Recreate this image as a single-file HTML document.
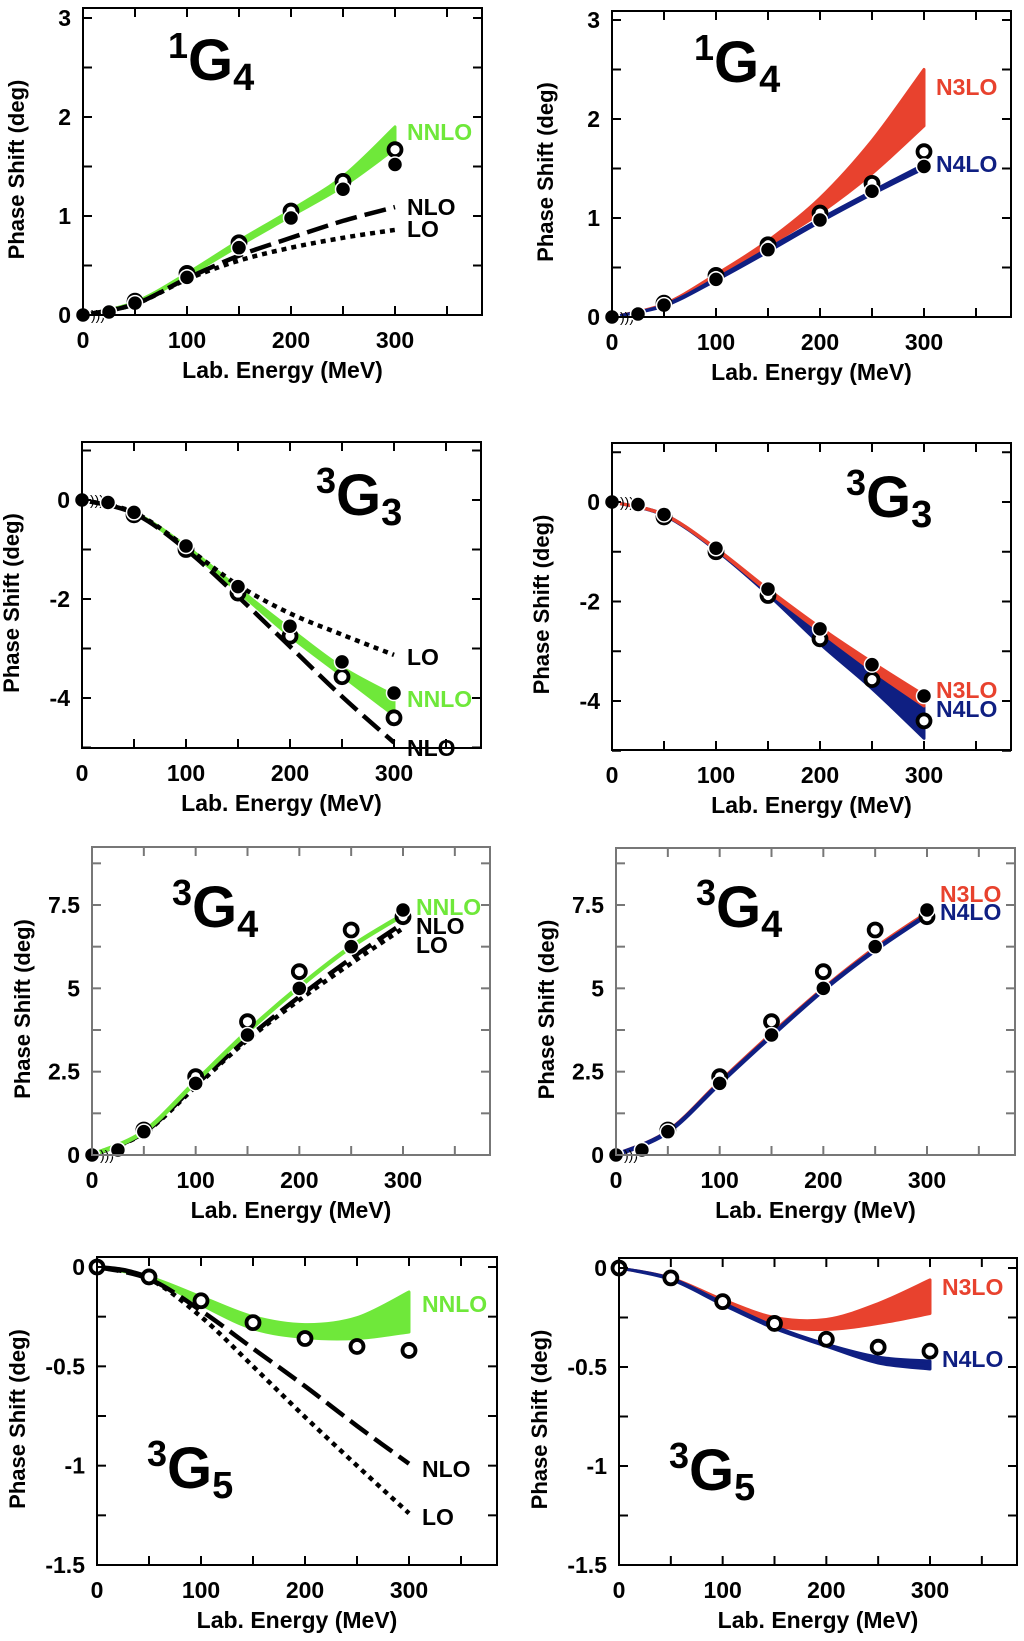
<!DOCTYPE html>
<html><head><meta charset="utf-8"><style>
html,body{margin:0;padding:0;background:#fff;}
svg{display:block;font-family:"Liberation Sans",Arial,sans-serif;font-weight:bold;}
</style></head><body>
<svg id="fig" width="1024" height="1641" viewBox="0 0 1024 1641"></svg>
<script>
// ---- Data (energies in MeV, phase shifts in degrees) ----
const E = [0,25,50,100,150,200,250,300];
const EB = [0,50,100,150,200,250,300];
// 1G4
const g14_filled = [0,0.03,0.12,0.38,0.68,0.98,1.27,1.52];
const g14_openE = [50,100,150,200,250,300];
const g14_open = [0.14,0.42,0.73,1.05,1.35,1.67];
const g14_LO = [0,0.11,0.36,0.55,0.68,0.78,0.86];
const g14_NLO = [0,0.11,0.37,0.60,0.78,0.95,1.09];
const g14_NNLO_lo = [0,0.12,0.39,0.70,1.00,1.30,1.68];
const g14_NNLO_hi = [0,0.13,0.42,0.75,1.06,1.40,1.90];
const g14_N3LO_lo = [0,0.12,0.41,0.72,1.05,1.45,1.93];
const g14_N3LO_hi = [0,0.13,0.43,0.77,1.20,1.78,2.50];
const g14_N4LO_lo = [0,0.11,0.37,0.66,0.96,1.24,1.50];
const g14_N4LO_hi = [0,0.12,0.39,0.69,0.99,1.27,1.54];
// 3G3
const g33_filled = [0,-0.05,-0.25,-0.93,-1.75,-2.55,-3.27,-3.9];
const g33_openE = [50,100,150,200,250,300];
const g33_open = [-0.3,-1.0,-1.88,-2.75,-3.57,-4.4];
const g33_LO = [0,-0.25,-0.95,-1.72,-2.29,-2.72,-3.13];
const g33_NLO = [0,-0.27,-1.0,-1.95,-2.96,-3.97,-4.9];
const g33_NNLO_lo = [0,-0.27,-0.98,-1.85,-2.75,-3.55,-4.35];
const g33_NNLO_hi = [0,-0.25,-0.93,-1.78,-2.6,-3.38,-3.95];
const g33_N3LO_lo = [0,-0.26,-0.95,-1.8,-2.6,-3.38,-4.1];
const g33_N3LO_hi = [0,-0.25,-0.93,-1.75,-2.52,-3.22,-3.88];
const g33_N4LO_lo = [0,-0.27,-0.97,-1.86,-2.85,-3.75,-4.75];
const g33_N4LO_hi = [0,-0.25,-0.94,-1.76,-2.58,-3.35,-4.1];
// 3G4
const g34_filled = [0,0.15,0.7,2.15,3.6,5.0,6.25,7.35];
const g34_openE = [50,100,150,200,250,300];
const g34_open = [0.75,2.35,4.0,5.5,6.75,7.15];
const g34_LO = [0,0.65,2.05,3.45,4.65,5.75,6.8];
const g34_NLO = [0,0.67,2.1,3.5,4.75,5.9,6.95];
const g34_NNLO = [0,0.7,2.2,3.7,5.05,6.25,7.2];
const g34_N3LO = [0,0.7,2.18,3.62,4.98,6.2,7.25];
const g34_N4LO = [0,0.69,2.15,3.58,4.95,6.15,7.2];
// 3G5
const g35_openE = [0,50,100,150,200,250,300];
const g35_open = [0,-0.05,-0.17,-0.28,-0.36,-0.4,-0.42];
const g35_LO = [0,-0.06,-0.25,-0.5,-0.755,-1.0,-1.24];
const g35_NLO = [0,-0.06,-0.22,-0.41,-0.6,-0.8,-0.99];
const g35_NNLO_lo = [0,-0.055,-0.19,-0.31,-0.355,-0.36,-0.327];
const g35_NNLO_hi = [0,-0.05,-0.15,-0.25,-0.29,-0.255,-0.126];
const g35_N3LO_lo = [0,-0.055,-0.18,-0.29,-0.31,-0.28,-0.23];
const g35_N3LO_hi = [0,-0.05,-0.16,-0.25,-0.26,-0.18,-0.06];
const g35_N4LO_lo = [0,-0.058,-0.185,-0.305,-0.395,-0.48,-0.51];
const g35_N4LO_hi = [0,-0.052,-0.175,-0.295,-0.385,-0.45,-0.47];

const GREEN='#6fe83a', RED='#e8422e', BLUE='#0f1f82';
const NS='http://www.w3.org/2000/svg';
const svg=document.getElementById('fig');
function mk(tag,attrs,parent){const el=document.createElementNS(NS,tag);for(const k in attrs)el.setAttribute(k,attrs[k]);(parent||svg).appendChild(el);return el;}

function smooth(pts){
  let d='M'+pts[0][0].toFixed(1)+','+pts[0][1].toFixed(1);
  for(let i=0;i<pts.length-1;i++){
    const p0=pts[i-1]||pts[i],p1=pts[i],p2=pts[i+1],p3=pts[i+2]||p2;
    const c1=[p1[0]+(p2[0]-p0[0])/6,p1[1]+(p2[1]-p0[1])/6];
    const c2=[p2[0]-(p3[0]-p1[0])/6,p2[1]-(p3[1]-p1[1])/6];
    d+=' C'+c1[0].toFixed(1)+','+c1[1].toFixed(1)+' '+c2[0].toFixed(1)+','+c2[1].toFixed(1)+' '+p2[0].toFixed(1)+','+p2[1].toFixed(1);
  }
  return d;
}

function panel(c){
  const g=mk('g',{});
  
  
  const sx=v=>c.x0+(c.x300-c.x0)*v/300;
  const sy=v=>c.ya+(c.yb-c.ya)*(v-c.va)/(c.vb-c.va);
  const b=c.box;
  const clipId='clip-'+c.name;
  const cp=mk('clipPath',{id:clipId},g);mk('rect',{x:b[0],y:b[1],width:b[2]-b[0],height:b[3]-b[1]},cp);
  const plot=mk('g',{'clip-path':'url(#'+clipId+')'},g);
  (c.bands||[]).forEach(bd=>{
    const up=EB.map((e,i)=>[sx(e),sy(bd.hi[i])]);
    const lo=EB.map((e,i)=>[sx(e),sy(bd.lo[i])]).reverse();
    let d=smooth(up)+' L'+lo[0][0]+','+lo[0][1]+smooth(lo).replace(/^M[^C]*/,'')+' Z';
    const p=mk('path',{d:d,fill:bd.color,stroke:bd.color,'stroke-width':3,'stroke-linejoin':'round'},plot);
    
    
  });
  (c.lines||[]).forEach(ln=>{
    const pts=EB.map((e,i)=>[sx(e),sy(ln.v[i])]);
    const p=mk('path',{d:smooth(pts),fill:'none',stroke:ln.color,'stroke-width':ln.w||4.5,'stroke-dasharray':ln.dash||'none'},plot);
    
    
  });
  if(c.blackStart){
    const p=mk('path',{d:smooth([[sx(0),sy(0)],[sx(25),sy(c.blackStart[0])],[sx(50),sy(c.blackStart[1])]]),fill:'none',stroke:'#000','stroke-width':4.5},plot);
    
    
  }
  if(c.openE){c.openE.forEach((e,i)=>{
    const p=mk('circle',{cx:sx(e),cy:sy(c.open[i]),r:6.5,fill:'#fff',stroke:'#000','stroke-width':3.8},g);
    
    
  });}
  if(c.filled){
    mk('text',{x:sx(0)+8,y:sy(0)+5,'font-size':14,'font-weight':'normal'},g).textContent=')))';
    E.forEach((e,i)=>{
    const p=mk('circle',{cx:sx(e),cy:sy(c.filled[i]),r:7.5,fill:'#000',stroke:'#fff','stroke-width':1.5},g);
    
    
  });}
  const fr=mk('rect',{x:b[0],y:b[1],width:b[2]-b[0],height:b[3]-b[1],fill:'none',stroke:c.frame||'#000','stroke-width':2},g);
  
  
  const tk=c.frame||'#000';
  for(let e=0;e<=350;e+=50){const x=sx(e);
    mk('line',{x1:x,y1:b[3],x2:x,y2:b[3]-9,stroke:tk,'stroke-width':2},g);
    mk('line',{x1:x,y1:b[1],x2:x,y2:b[1]+9,stroke:tk,'stroke-width':2},g);
    if(e%100===0){const t=mk('text',{x:x,y:b[3]+33,'text-anchor':'middle','font-size':23},g);t.textContent=e;
      }
  }
  c.minor.forEach(v=>{const y=sy(v);
    mk('line',{x1:b[0],y1:y,x2:b[0]+9,y2:y,stroke:tk,'stroke-width':2},g);
    mk('line',{x1:b[2],y1:y,x2:b[2]-9,y2:y,stroke:tk,'stroke-width':2},g);
  });
  c.major.forEach((v,i)=>{const t=mk('text',{x:b[0]-12,y:sy(v)+8,'text-anchor':'end','font-size':23},g);t.textContent=c.majorLabels[i];
    });
  const xt=mk('text',{x:(b[0]+b[2])/2,y:b[3]+63,'text-anchor':'middle','font-size':23},g);xt.textContent='Lab. Energy (MeV)';
  
  const yx=b[0]-c.ytOff, yc=(b[1]+b[3])/2+8;
  const yt=mk('text',{x:yx,y:yc,'text-anchor':'middle','font-size':22,transform:'rotate(-90 '+yx+' '+yc+')'},g);yt.textContent='Phase Shift (deg)';
  
  const tt=mk('text',{x:c.title[0],y:c.title[1],'font-size':58},g);
  const s1=mk('tspan',{'font-size':36,dy:-22},tt);s1.textContent=c.title[2];
  const s2=mk('tspan',{dy:22},tt);s2.textContent='G';
  const s3=mk('tspan',{'font-size':38,dy:10},tt);s3.textContent=c.title[3];
  
  c.labels.forEach(l=>{const t=mk('text',{x:l[0],y:l[1],'font-size':23,fill:l[3]},g);t.textContent=l[2];
    });
}
function range(a,b,s){const r=[];for(let v=a;v<=b+1e-9;v+=s)r.push(+v.toFixed(4));return r;}

panel({name:'panel-1g4-low',box:[83,8,482,315],x0:83,x300:395,va:0,ya:315,vb:3,yb:18,
  major:[0,1,2,3],majorLabels:['0','1','2','3'],minor:range(0.5,3,0.5),ytOff:59,
  bands:[{lo:g14_NNLO_lo,hi:g14_NNLO_hi,color:GREEN,label:'nnlo'}],
  lines:[{v:g14_NLO,color:'#000',dash:'22 8',label:'nlo'},{v:g14_LO,color:'#000',dash:'5 5',label:'lo'}],
  filled:g14_filled,openE:g14_openE,open:g14_open,title:[168,80,'1','4'],
  labels:[[407,140,'NNLO',GREEN],[407,215,'NLO','#000'],[407,237,'LO','#000']]});
panel({name:'panel-1g4-high',box:[612,11,1011,317],x0:612,x300:924,va:0,ya:317,vb:3,yb:20,
  major:[0,1,2,3],majorLabels:['0','1','2','3'],minor:range(0.5,3,0.5),ytOff:59,
  bands:[{lo:g14_N3LO_lo,hi:g14_N3LO_hi,color:RED,label:'n3lo'},{lo:g14_N4LO_lo,hi:g14_N4LO_hi,color:BLUE,label:'n4lo'}],
  filled:g14_filled,openE:g14_openE,open:g14_open,title:[694,82,'1','4'],
  labels:[[936,95,'N3LO',RED],[936,172,'N4LO',BLUE]]});
panel({name:'panel-3g3-low',box:[82,442,481,748],x0:82,x300:394,va:0,ya:500,vb:-4,yb:698,
  major:[0,-2,-4],majorLabels:['0','-2','-4'],minor:range(-5,1,1),ytOff:63,
  bands:[{lo:g33_NNLO_lo,hi:g33_NNLO_hi,color:GREEN,label:'nnlo'}],
  lines:[{v:g33_LO,color:'#000',dash:'5 5',label:'lo'},{v:g33_NLO,color:'#000',dash:'22 8',label:'nlo'}],
  filled:g33_filled,openE:g33_openE,open:g33_open,title:[316,515,'3','3'],
  labels:[[407,665,'LO','#000'],[407,707,'NNLO',GREEN],[407,756,'NLO','#000']]});
panel({name:'panel-3g3-high',box:[612,443,1011,750],x0:612,x300:924,va:0,ya:502,vb:-4,yb:701,
  major:[0,-2,-4],majorLabels:['0','-2','-4'],minor:range(-5,1,1),ytOff:63,
  bands:[{lo:g33_N4LO_lo,hi:g33_N4LO_hi,color:BLUE,label:'n4lo'},{lo:g33_N3LO_lo,hi:g33_N3LO_hi,color:RED,label:'n3lo'}],
  filled:g33_filled,openE:g33_openE,open:g33_open,title:[846,517,'3','3'],
  labels:[[936,698,'N3LO',RED],[936,717,'N4LO',BLUE]]});
panel({name:'panel-3g4-low',box:[92,847,490,1155],x0:92,x300:403,va:0,ya:1155,vb:7.5,yb:905,frame:'#777',
  major:[0,2.5,5,7.5],majorLabels:['0','2.5','5','7.5'],minor:range(1.25,8.75,1.25),ytOff:62,
  lines:[{v:g34_LO,color:'#000',dash:'5 5',label:'lo'},{v:g34_NLO,color:'#000',dash:'22 8',label:'nlo'},{v:g34_NNLO,color:GREEN,label:'nnlo'}],
  filled:g34_filled,openE:g34_openE,open:g34_open,title:[172,927,'3','4'],
  labels:[[416,915,'NNLO',GREEN],[416,934,'NLO','#000'],[416,953,'LO','#000']]});
panel({name:'panel-3g4-high',box:[616,848,1015,1155],x0:616,x300:927,va:0,ya:1155,vb:7.5,yb:905,frame:'#777',
  major:[0,2.5,5,7.5],majorLabels:['0','2.5','5','7.5'],minor:range(1.25,8.75,1.25),ytOff:62,
  lines:[{v:g34_N3LO,color:RED,label:'n3lo'},{v:g34_N4LO,color:BLUE,label:'n4lo'}],
  filled:g34_filled,openE:g34_openE,open:g34_open,title:[696,927,'3','4'],
  labels:[[940,902,'N3LO',RED],[940,920,'N4LO',BLUE]]});
panel({name:'panel-3g5-low',box:[97,1257,497,1565],x0:97,x300:409,va:0,ya:1267,vb:-1.5,yb:1565,
  major:[0,-0.5,-1,-1.5],majorLabels:['0','-0.5','-1','-1.5'],minor:range(-1.5,0,0.25),ytOff:72,
  bands:[{lo:g35_NNLO_lo,hi:g35_NNLO_hi,color:GREEN,label:'nnlo'}],
  lines:[{v:g35_NLO,color:'#000',dash:'22 8',label:'nlo'},{v:g35_LO,color:'#000',dash:'5 5',label:'lo'}],
  blackStart:[-0.015,-0.05],
  openE:g35_openE,open:g35_open,title:[147,1488,'3','5'],
  labels:[[422,1312,'NNLO',GREEN],[422,1477,'NLO','#000'],[422,1525,'LO','#000']]});
panel({name:'panel-3g5-high',box:[619,1258,1017,1565],x0:619,x300:930,va:0,ya:1268,vb:-1.5,yb:1565,
  major:[0,-0.5,-1,-1.5],majorLabels:['0','-0.5','-1','-1.5'],minor:range(-1.5,0,0.25),ytOff:72,
  bands:[{lo:g35_N3LO_lo,hi:g35_N3LO_hi,color:RED,label:'n3lo'},{lo:g35_N4LO_lo,hi:g35_N4LO_hi,color:BLUE,label:'n4lo'}],
  openE:g35_openE,open:g35_open,title:[669,1490,'3','5'],
  labels:[[942,1295,'N3LO',RED],[942,1367,'N4LO',BLUE]]});
</script>
</body></html>
